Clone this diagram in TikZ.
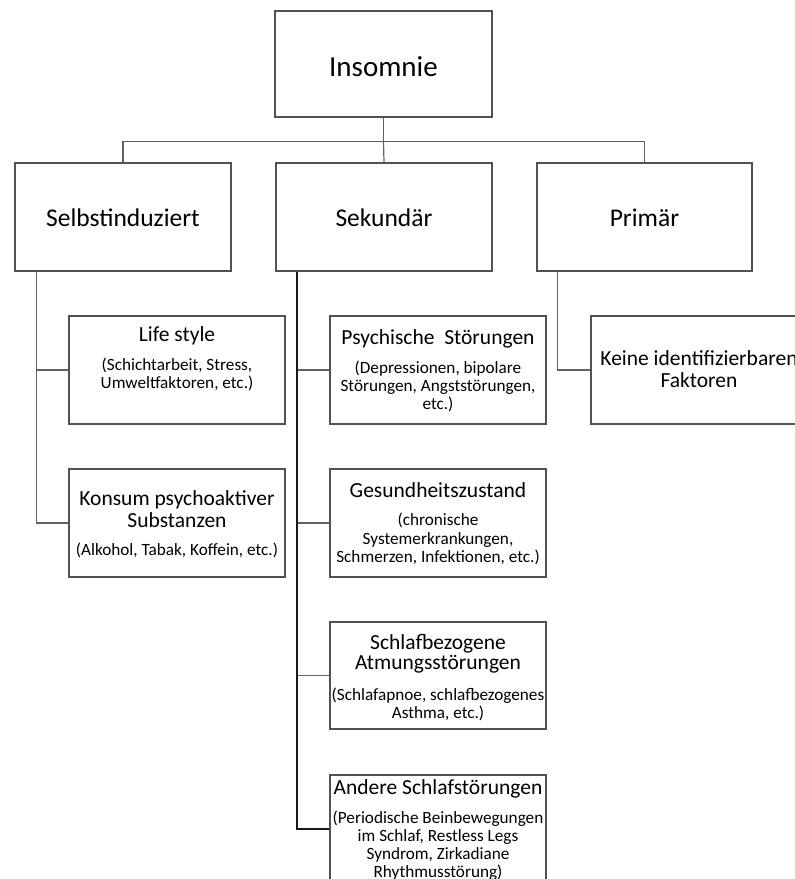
\documentclass[tikz,border=0pt]{standalone}
\usepackage{fontspec}
\setmainfont{Carlito}
\usetikzlibrary{calc}
\begin{document}
\begin{tikzpicture}[x=1pt,y=-1pt,
  box/.style={draw=black!68, line width=1.2pt, rectangle, inner sep=0pt, minimum width=216pt, minimum height=108pt},
  conn/.style={draw=black!62, line width=1.2pt},
  trunk/.style={draw=black!90, line width=1.25pt},
  big/.style={font=\fontsize{29}{29}\selectfont, inner sep=0pt, anchor=base},
  mid/.style={font=\fontsize{25.5}{25.5}\selectfont, inner sep=0pt, anchor=base},
  ttl/.style={font=\fontsize{21.5}{21.5}\selectfont, align=center, inner sep=0pt, anchor=base},
  sml/.style={font=\fontsize{17.2}{18}\selectfont, align=center, inner sep=0pt, anchor=base},
]
\useasboundingbox (0,0) rectangle (795,879);
\fill[white] (0,0) rectangle (795,879);
\clip (0,0) rectangle (795,879);

% top
\node[box, minimum width=217pt, minimum height=106pt] (ins) at (383.5,64) {};
\node[big] (insT) at ($(ins.center)+(0,12)$) {Insomnie};

% level 2
\node[box] (selb) at (123,217) {};
\node[box] (sek) at (384,217) {};
\node[box, minimum width=215pt] (prim) at (644.5,217) {};
\node[mid] (selbT) at ($(selb.center)+(0,9)$) {Selbstinduziert};
\node[mid] (sekT) at ($(sek.center)+(0,9)$) {Sekundär};
\node[mid] (primT) at ($(prim.center)+(0,9)$) {Primär};

% level 3
\node[box] (life) at (177,370) {};
\node[box] (konsum) at (177,523) {};
\node[box] (psych) at (438,370) {};
\node[box] (gesund) at (438,523) {};
\node[box, minimum height=107pt] (schlaf) at (438,675.5) {};
\node[box] (andere) at (438,829) {};
\node[box] (keine) at (699,370) {};

% (base anchor of a multi-line node = baseline of its last line)
\node[ttl] (lifeT) at ($(life.north)+(0,26.5)$) {Life style};
\node[sml] (lifeS) at ($(life.north)+(0,73.3)$) {(Schichtarbeit, Stress,\\Umweltfaktoren, etc.)};

\node[ttl, font=\fontsize{21.5}{22}\selectfont] (konsumT) at ($(konsum.north)+(0,59.5)$) {Konsum psychoaktiver\\Substanzen};
\node[sml] (konsumS) at ($(konsum.north)+(0,87.3)$) {(Alkohol, Tabak, Koffein, etc.)};

\node[ttl] (psychT) at ($(psych.north)+(0,29.5)$) {Psychische\ \ Störungen};
\node[sml] (psychS) at ($(psych.north)+(0,94.3)$) {(Depressionen, bipolare\\Störungen, Angststörungen,\\etc.)};

\node[ttl] (gesundT) at ($(gesund.north)+(0,29.5)$) {Gesundheitszustand};
\node[sml, font=\fontsize{17.2}{18.5}\selectfont] (gesundS) at ($(gesund.north)+(0,94.3)$) {(chronische\\Systemerkrankungen,\\Schmerzen, Infektionen, etc.)};

\node[ttl, font=\fontsize{21.5}{20}\selectfont] (schlafT) at ($(schlaf.north)+(0,48.5)$) {Schlafbezogene\\Atmungsstörungen};
\node[sml] (schlafS) at ($(schlaf.north)+(0,97.3)$) {(Schlafapnoe, schlafbezogenes\\Asthma, etc.)};

\node[ttl] (andereT) at ($(andere.north)+(0,20.5)$) {Andere Schlafstörungen};
\node[sml] (andereS) at ($(andere.north)+(0,103.3)$) {(Periodische Beinbewegungen\\im Schlaf, Restless Legs\\Syndrom, Zirkadiane\\Rhythmusstörung)};

\node[ttl, font=\fontsize{21.5}{22}\selectfont] (keineT) at ($(keine.north)+(0,72.5)$) {Keine identifizierbaren\\Faktoren};

% connectors
\coordinate (bus) at ($(ins.south)+(0,24)$);
\draw[conn] (ins.south) -- (bus);
\draw[conn] (selb.north) |- (bus) -| (prim.north);
\draw[conn] (bus) -- (sek.north);

\coordinate (selbTr) at ($(selb.south west)+(22,0)$);
\draw[conn] (selbTr) |- (life.west);
\draw[conn] (selbTr) |- (konsum.west);

\coordinate (sekTr) at ($(sek.south west)+(21.5,0)$);
\draw[conn] (sekTr) |- (psych.west);
\draw[conn] (sekTr) |- (gesund.west);
\draw[conn] (sekTr) |- (schlaf.west);
\draw[trunk] (sekTr) |- (andere.west);

\coordinate (primTr) at ($(prim.south west)+(21,0)$);
\draw[conn] (primTr) |- (keine.west);
\end{tikzpicture}
\end{document}
